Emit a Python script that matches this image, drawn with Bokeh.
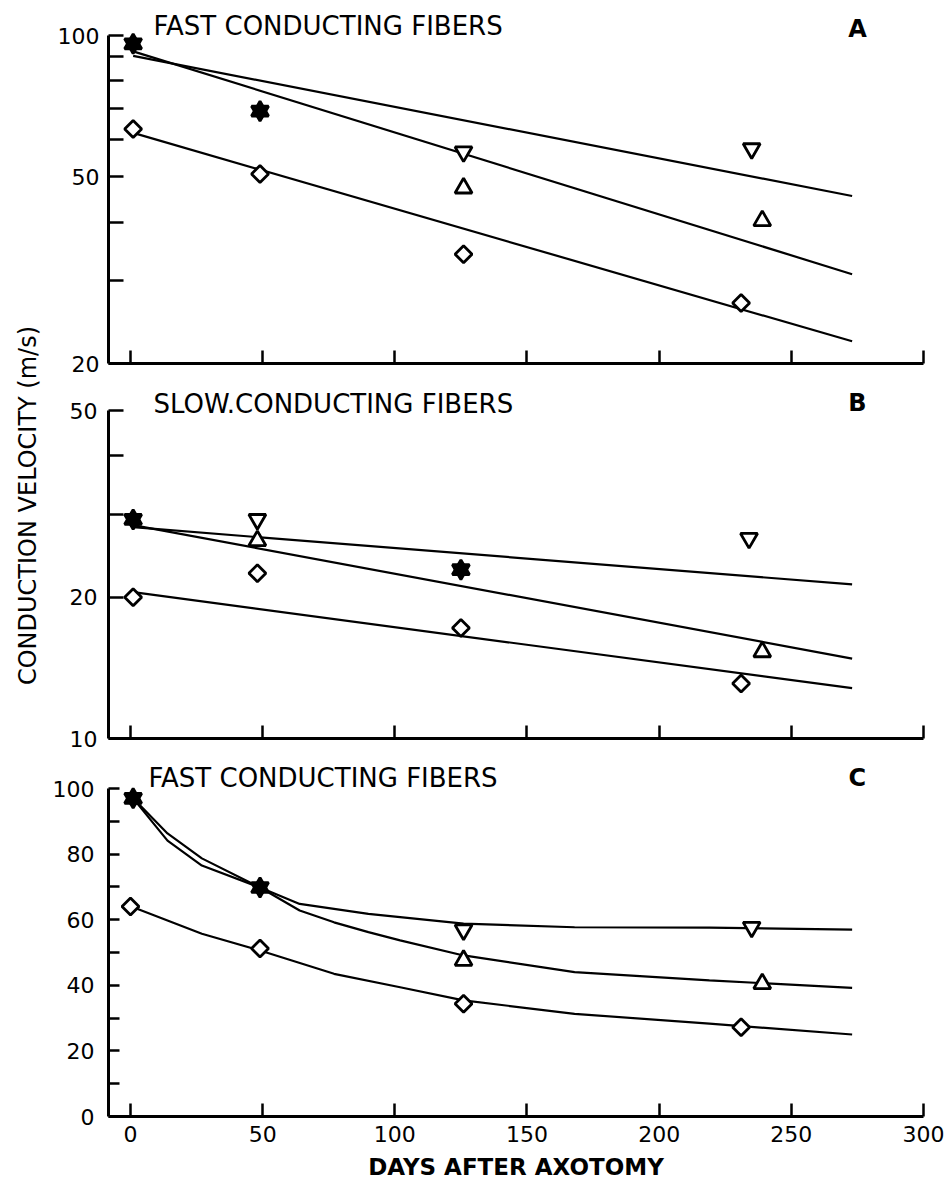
from math import pi, log10
from bokeh.plotting import figure
from bokeh.models import Range1d, FixedTicker, PrintfTickFormatter, Label
from bokeh.layouts import row, column
from bokeh.embed import file_html
from bokeh.resources import INLINE

FONT = "DejaVu Sans"

# ---------------- shared axis ----------------
x_ticks = [0, 50, 100, 150, 200, 250, 300]
x_label = "DAYS AFTER AXOTOMY"
y_label = "CONDUCTION VELOCITY (m/s)"

# ---------------- Panel A : fast conducting fibers (log) ----------------
a_title = "FAST CONDUCTING FIBERS"
a_letter = "A"
a_y_major = [20, 50, 100]
a_y_minor = [30, 40, 60, 70, 80, 90]
a_down_days = [1, 49, 126, 235]
a_down_vel = [96, 69, 56.5, 57.4]
a_up_days = [1, 49, 126, 239]
a_up_vel = [96, 69, 47.3, 40.3]
a_dia_days = [1, 49, 126, 231]
a_dia_vel = [63.2, 50.7, 34.2, 26.9]
a_fit_days = [1, 273]
a_fit_down = [90.5, 45.5]
a_fit_up = [92.5, 31.0]
a_fit_dia = [62.0, 22.3]

# ---------------- Panel B : slow conducting fibers (log) ----------------
b_title = "SLOW.CONDUCTING FIBERS"
b_letter = "B"
b_y_major = [10, 20, 50]
b_y_minor = [30, 40]
b_down_days = [1, 48, 125, 234]
b_down_vel = [29.3, 29.3, 22.9, 26.7]
b_up_days = [1, 48, 125, 239]
b_up_vel = [29.3, 26.4, 22.9, 15.3]
b_dia_days = [1, 48, 125, 231]
b_dia_vel = [20.0, 22.5, 17.2, 13.1]
b_fit_days = [1, 273]
b_fit_down = [28.2, 21.3]
b_fit_up = [28.5, 14.8]
b_fit_dia = [20.5, 12.8]

# ---------------- Panel C : fast conducting fibers (linear) ----------------
c_title = "FAST CONDUCTING FIBERS"
c_letter = "C"
c_y_major = [0, 20, 40, 60, 80, 100]
c_y_minor = [10, 30, 50, 70, 90]
c_down_days = [1, 49, 126, 235]
c_down_vel = [97, 69.8, 56.9, 57.7]
c_up_days = [1, 49, 126, 239]
c_up_vel = [97, 69.8, 47.6, 40.5]
c_dia_days = [0, 49, 126, 231]
c_dia_vel = [64.0, 51.2, 34.4, 27.2]
c_curve_down_days = [1, 14, 27, 49, 64, 90, 126, 168, 219, 273]
c_curve_down = [97, 84.1, 76.5, 69.8, 64.8, 61.8, 58.8, 57.7, 57.6, 57.0]
c_curve_up_days = [1, 14, 27, 49, 64, 77, 90, 102, 126, 168, 219, 273]
c_curve_up = [97, 86.3, 78.7, 69.8, 62.8, 59.2, 56.2, 53.7, 49.1, 44.0, 41.5, 39.2]
c_curve_dia_days = [1, 27, 49, 77, 102, 126, 168, 219, 273]
c_curve_dia = [63.8, 55.7, 50.6, 43.5, 39.4, 35.4, 31.3, 28.3, 25.0]

AXIS_PX = 328  # pixel height of each panel's value axis


def shared_fill(d1, v1, d2, v2):
    pairs = set(zip(d2, v2))
    return ["black" if (d, v) in pairs else "white" for d, v in zip(d1, v1)]


def extended_end(lo, hi, ext_px, log):
    # range end placed ext_px pixels above the top of the value axis
    if log:
        return 10 ** (log10(hi) + ext_px * (log10(hi) - log10(lo)) / AXIS_PX)
    return hi + ext_px * (hi - lo) / AXIS_PX


def style_axis(ax, tick_len, standoff):
    ax.axis_line_width = 3
    ax.axis_line_color = "black"
    ax.major_tick_line_width = 2.5
    ax.minor_tick_line_width = 2.5
    ax.major_tick_line_color = "black"
    ax.minor_tick_line_color = "black"
    ax.major_tick_in = tick_len
    ax.major_tick_out = 0
    ax.minor_tick_in = tick_len
    ax.minor_tick_out = 0
    ax.major_label_text_font = FONT
    ax.major_label_text_font_size = "22px"
    ax.major_label_text_color = "black"
    ax.major_label_standoff = standoff


def make_panel(height, ext, bottom, y_type, y_lo, y_hi, y_major, y_minor,
               fits, curves, points, title, letter, title_x, title_dy, letter_dy,
               show_x, y_tick_len, y_standoff):
    log = y_type == "log"
    p = figure(width=900, height=height, y_axis_type=y_type,
               x_range=Range1d(-8.32, 300),
               y_range=Range1d(y_lo, extended_end(y_lo, y_hi, ext, log)),
               output_backend="svg", toolbar_location=None,
               min_border_left=60, min_border_right=25,
               min_border_top=0, min_border_bottom=bottom)
    p.outline_line_color = None
    p.grid.grid_line_color = None
    p.background_fill_color = "white"
    p.border_fill_color = "white"

    xa = p.xaxis[0]
    xa.ticker = FixedTicker(ticks=x_ticks, minor_ticks=[])
    style_axis(xa, 13, 9)
    if show_x:
        xa.axis_label = x_label
        xa.axis_label_text_font = FONT
        xa.axis_label_text_font_size = "23px"
        xa.axis_label_text_font_style = "bold"
        xa.axis_label_text_color = "black"
        xa.axis_label_standoff = 9
    else:
        xa.major_label_overrides = {t: "" for t in x_ticks}

    ya = p.yaxis[0]
    ya.ticker = FixedTicker(ticks=y_major, minor_ticks=y_minor)
    ya.formatter = PrintfTickFormatter(format="%d")
    ya.bounds = (y_lo, y_hi)
    style_axis(ya, y_tick_len, y_standoff)

    for d, v in fits:
        p.line(d, v, line_color="black", line_width=2.2)
    for d, v in curves:
        p.line(d, v, line_color="black", line_width=2.2)

    (dd, dv), (ud, uv), (qd, qv) = points
    p.scatter(qd, qv, marker="square", angle=pi / 4, size=12,
              line_color="black", line_width=2.8, fill_color="white")
    p.scatter(dd, dv, marker="inverted_triangle", size=17, line_color="black",
              line_width=2.8, fill_color=shared_fill(dd, dv, ud, uv))
    p.scatter(ud, uv, marker="triangle", size=17, line_color="black",
              line_width=2.8, fill_color=shared_fill(ud, uv, dd, dv))

    p.add_layout(Label(x=title_x, y=y_hi, x_units="data", y_units="data",
                       y_offset=title_dy, text=title, text_font=FONT,
                       text_font_size="26px", text_color="black",
                       text_align="left", text_baseline="middle"))
    p.add_layout(Label(x=275, y=y_hi, x_units="data", y_units="data",
                       y_offset=letter_dy, text=letter, text_font=FONT,
                       text_font_size="24px", text_font_style="bold",
                       text_color="black",
                       text_align="center", text_baseline="middle"))
    return p


fA = make_panel(385, 35, 22, "log", 20, 100, a_y_major, a_y_minor,
                [(a_fit_days, a_fit_down), (a_fit_days, a_fit_up), (a_fit_days, a_fit_dia)],
                [],
                [(a_down_days, a_down_vel), (a_up_days, a_up_vel), (a_dia_days, a_dia_vel)],
                a_title, a_letter, 8.7, 10, 7, False, 15, 9)
fB = make_panel(377, 25, 24, "log", 10, 50, b_y_major, b_y_minor,
                [(b_fit_days, b_fit_down), (b_fit_days, b_fit_up), (b_fit_days, b_fit_dia)],
                [],
                [(b_down_days, b_down_vel), (b_up_days, b_up_vel), (b_dia_days, b_dia_vel)],
                b_title, b_letter, 8.7, 7, 8, False, 15, 11)
fC = make_panel(426, 26, 72, "linear", 0, 100, c_y_major, c_y_minor,
                [],
                [(c_curve_down_days, c_curve_down), (c_curve_up_days, c_curve_up),
                 (c_curve_dia_days, c_curve_dia)],
                [(c_down_days, c_down_vel), (c_up_days, c_up_vel), (c_dia_days, c_dia_vel)],
                c_title, c_letter, 6.8, 11, 11, True, 11, 14)

# left strip carrying the shared y-axis title
TOTAL_H = 385 + 377 + 426
fL = figure(width=48, height=TOTAL_H, x_range=Range1d(0, 48), y_range=Range1d(0, TOTAL_H),
            output_backend="svg", toolbar_location=None,
            x_axis_location=None, y_axis_location=None,
            min_border_left=0, min_border_right=0, min_border_top=0, min_border_bottom=0)
fL.outline_line_color = None
fL.grid.grid_line_color = None
fL.border_fill_color = "white"
fL.background_fill_color = "white"
fL.add_layout(Label(x=27, y=TOTAL_H - 505, x_units="data", y_units="data",
                    text=y_label, angle=pi / 2, text_font=FONT, text_font_size="24px",
                    text_color="black", text_align="center", text_baseline="middle"))

layout = row(fL, column(fA, fB, fC))
open("out.html", "w").write(file_html(layout, INLINE))
